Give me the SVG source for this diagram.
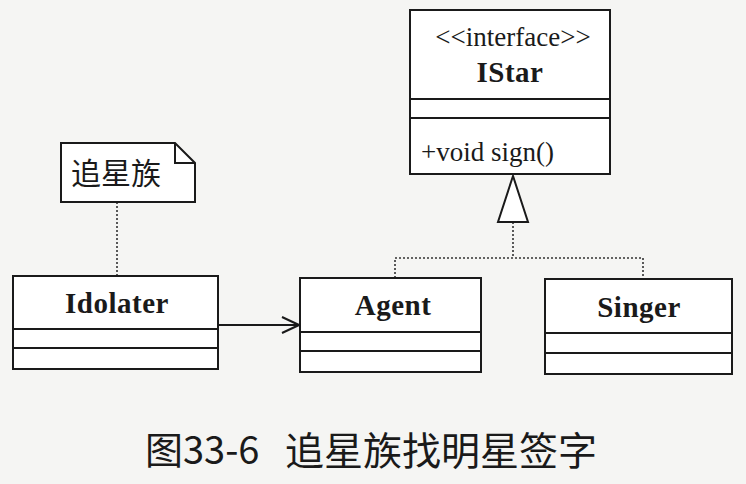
<svg xmlns="http://www.w3.org/2000/svg" width="746" height="484" viewBox="0 0 746 484">
<defs>
<style>
.box{fill:#fff;stroke:#1a1a1a;stroke-width:2}
.ln{stroke:#1a1a1a;stroke-width:2;fill:none}
.dot{stroke:#333;stroke-width:1.6;fill:none;stroke-dasharray:2 2}
.cls{font-family:"Liberation Serif",serif;font-weight:bold;font-size:29px;fill:#1a1a1a;text-anchor:middle;letter-spacing:0.5px}
.reg{font-family:"Liberation Serif",serif;font-size:27px;fill:#1a1a1a}
.cjk{font-family:"Noto Sans CJK SC",sans-serif;fill:#1a1a1a}
</style>
<marker id="open" viewBox="0 0 20 20" refX="19" refY="10" markerWidth="20" markerHeight="20" markerUnits="userSpaceOnUse" orient="auto">
<path d="M2,2 L19,10 L2,18" fill="none" stroke="#1a1a1a" stroke-width="2"/>
</marker>
</defs>
<rect width="746" height="484" fill="#f5f5f3"/>
<g id="connectors">
<line class="dot" x1="117" y1="202" x2="117" y2="276"/>
<line class="ln" x1="218" y1="325" x2="299" y2="325" marker-end="url(#open)"/>
<path class="dot" d="M513,222 V258 M395,278 V258 H643 V279"/>
<polygon points="513,176 498,222 528,222" fill="#fff" stroke="#1a1a1a" stroke-width="2"/>
</g>
<g id="note">
<path d="M61,143 H175 L195,163 V202 H61 Z" fill="#fff" stroke="#1a1a1a" stroke-width="2"/>
<path d="M175,143 V163 H195" class="ln" stroke-width="1.6"/>
<text class="cjk" x="71" y="184" font-size="30">追星族</text>
</g>
<g id="IStar">
<rect class="box" x="410" y="10" width="200" height="164"/>
<line class="ln" x1="410" y1="99" x2="610" y2="99"/>
<line class="ln" x1="410" y1="118" x2="610" y2="118"/>
<text class="reg" x="513" y="46" text-anchor="middle" font-size="28">&lt;&lt;interface&gt;&gt;</text>
<text class="cls" x="510" y="82">IStar</text>
<text class="reg" x="421" y="161">+void sign()</text>
</g>
<g id="Idolater">
<rect class="box" x="13" y="276" width="205" height="93"/>
<line class="ln" x1="13" y1="329" x2="218" y2="329"/>
<line class="ln" x1="13" y1="348" x2="218" y2="348"/>
<text class="cls" x="117" y="313">Idolater</text>
</g>
<g id="Agent">
<rect class="box" x="300" y="278" width="181" height="94"/>
<line class="ln" x1="300" y1="332" x2="481" y2="332"/>
<line class="ln" x1="300" y1="351" x2="481" y2="351"/>
<text class="cls" x="393" y="315">Agent</text>
</g>
<g id="Singer">
<rect class="box" x="545" y="279" width="187" height="95"/>
<line class="ln" x1="545" y1="333" x2="732" y2="333"/>
<line class="ln" x1="545" y1="353" x2="732" y2="353"/>
<text class="cls" x="639" y="317">Singer</text>
</g>
<g id="caption">
<text class="cjk" x="145" y="464" font-size="38">图33-6</text>
<text class="cjk" x="285" y="465" font-size="39">追星族找明星签字</text>
</g>
</svg>
